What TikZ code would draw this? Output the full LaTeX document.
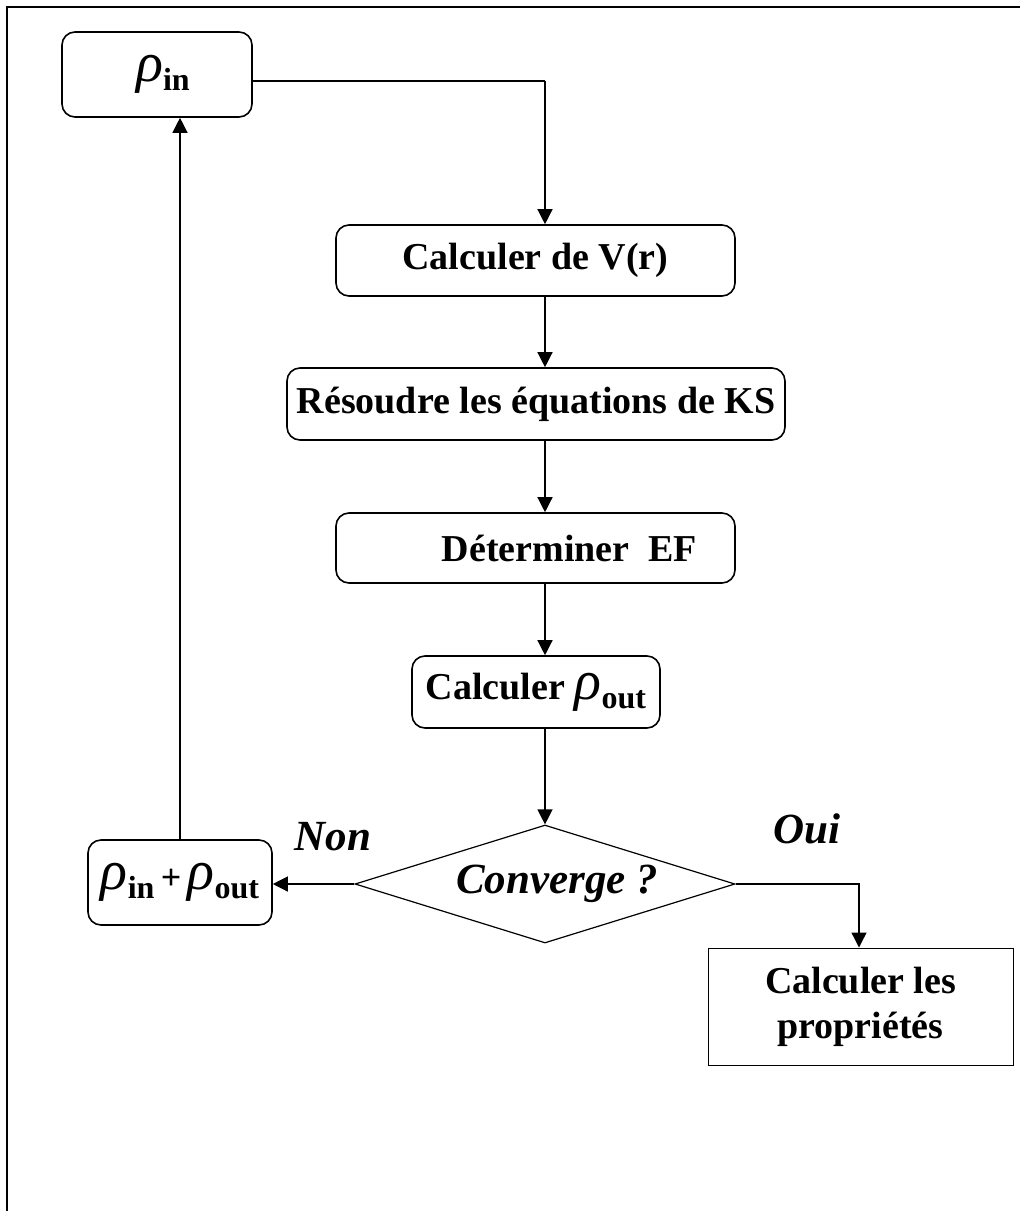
\documentclass[tikz,border=0pt]{standalone}
\usepackage{fontspec}
\setmainfont{Liberation Serif}
\usetikzlibrary{shapes.geometric,arrows.meta}

% density symbol with a bold subscript
\newcommand{\rhosub}[1]{{\mdseries\itshape\fontsize{28}{28}\selectfont ρ}\raisebox{-4.5pt}{\bfseries\upshape\fontsize{16}{16}\selectfont #1}}

\tikzset{
  stepbox/.style={draw, line width=0.8pt, rounded corners=6.5pt, inner sep=0pt,
    font=\bfseries\fontsize{19}{22.5}\selectfont},
  plainbox/.style={draw, line width=0.5pt, inner sep=0pt, align=center,
    font=\bfseries\fontsize{19}{22.5}\selectfont},
  testbox/.style={draw, diamond, line width=0.6pt, inner sep=0pt,
    font=\bfseries\itshape\fontsize{21.5}{21.5}\selectfont},
  answer/.style={font=\bfseries\itshape\fontsize{21.5}{21.5}\selectfont},
  link/.style={line width=0.65pt},
  arr/.style={link, -{Triangle[length=7.5pt,width=7.5pt]}},
  frame/.style={line width=1pt}
}

\begin{document}
\begin{tikzpicture}[x=0.5pt, y=-0.5pt]
  \useasboundingbox (0,0) rectangle (1020,1211);
  \fill[white] (0,0) rectangle (1020,1211);

  % page frame (top and left edges)
  \draw[frame] (7,1211) -- (7,7) -- (1020,7);

  % steps of the self-consistent cycle
  \node[stepbox, minimum width=95pt, minimum height=42.5pt] (rin) at (157,74.5) {\hspace*{6pt}\rhosub{in}};
  \node[stepbox, minimum width=199.5pt, minimum height=35.5pt] (vr) at (535.5,260.5) {Calculer de V(r)};
  \node[stepbox, minimum width=249pt, minimum height=36pt] (ks) at (536,404) {Résoudre les équations de KS};
  \node[stepbox, minimum width=199.5pt, minimum height=35pt] (ef) at (535.5,548) {\hspace*{34pt}Déterminer\ \ EF};
  \node[stepbox, minimum width=124pt, minimum height=36pt] (rout) at (536,692) {Calculer \rhosub{out}};
  \node[testbox, minimum width=190pt, minimum height=59pt, shape aspect=3.22] (conv) at (545,884) {\hspace*{12pt}Converge ?};
  \node[stepbox, minimum width=92pt, minimum height=42.5pt] (mix) at (180,882.5) {\rhosub{in}\,{\fontsize{18}{18}\selectfont+}\,\rhosub{out}};
  \node[plainbox, minimum width=152.5pt, minimum height=58.5pt] (prop) at (860.5,1006.5) {Calculer les\\propriétés};

  % branch labels
  \node[answer] (non) at (333,837) {Non};
  \node[answer] (oui) at (807,829) {Oui};

  % connectors
  \coordinate (col) at (545,81);
  \coordinate (turn) at (859,884);
  \draw[link] (rin.east |- col) -- (col);
  \draw[arr] (col) -- (col |- vr.north);
  \draw[arr] (vr.south -| col) -- (ks.north -| col);
  \draw[arr] (ks.south -| col) -- (ef.north -| col);
  \draw[arr] (ef.south -| col) -- (rout.north -| col);
  \draw[arr] (rout.south -| col) -- (conv.north);
  \draw[arr] (conv.east) -- (turn) -- (turn |- prop.north);
  \draw[arr] (conv.west) -- (mix.east |- conv.west);
  \draw[arr] (mix.north) -- (mix.north |- rin.south);
\end{tikzpicture}
\end{document}
